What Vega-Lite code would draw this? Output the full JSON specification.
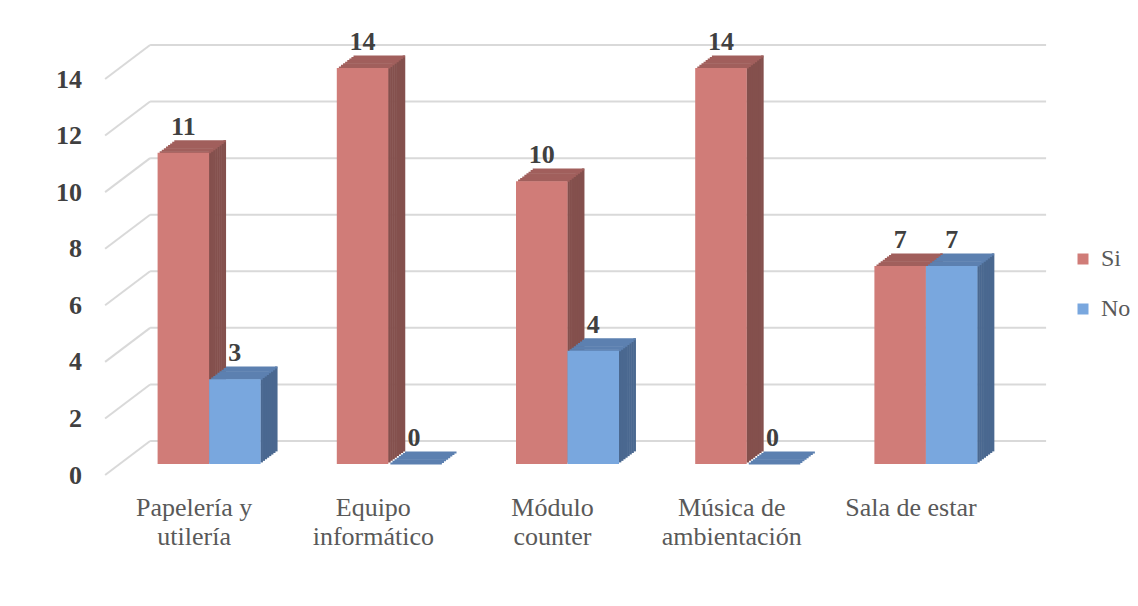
{
  "$schema": "https://vega.github.io/schema/vega-lite/v6.json",
  "width": 896,
  "height": 396,
  "autosize": {"type": "none"},
  "padding": {"left": 119.5, "top": 68, "right": 122.5, "bottom": 142},
  "background": "white",
  "config": {
    "view": {"stroke": null},
    "font": "Liberation Serif",
    "axisY": {
      "title": null,
      "domain": false,
      "ticks": false,
      "tickSize": 0,
      "grid": false,
      "labelFont": "Liberation Serif",
      "labelFontSize": 26,
      "labelFontWeight": "bold",
      "labelColor": "#404040",
      "labelPadding": 38,
      "labelOffset": 11,
      "labelFlush": false
    }
  },
  "datasets": {
    "si": [
      {"categoria": "Papelería y utilería", "valor": 11},
      {"categoria": "Equipo informático", "valor": 14},
      {"categoria": "Módulo counter", "valor": 10},
      {"categoria": "Música de ambientación", "valor": 14},
      {"categoria": "Sala de estar", "valor": 7}
    ],
    "no": [
      {"categoria": "Papelería y utilería", "valor": 3},
      {"categoria": "Equipo informático", "valor": 0},
      {"categoria": "Módulo counter", "valor": 4},
      {"categoria": "Música de ambientación", "valor": 0},
      {"categoria": "Sala de estar", "valor": 7}
    ],
    "marcas": [{"v": 0}, {"v": 2}, {"v": 4}, {"v": 6}, {"v": 8}, {"v": 10}, {"v": 12}, {"v": 14}]
  },
  "encoding": {
    "x": {
      "field": "categoria",
      "type": "nominal",
      "scale": {
        "domain": ["Papelería y utilería", "Equipo informático", "Módulo counter", "Música de ambientación", "Sala de estar"],
        "paddingInner": 0,
        "paddingOuter": 0
      },
      "axis": {
        "title": null,
        "domain": false,
        "ticks": false,
        "tickSize": 0,
        "grid": false,
        "labelAngle": 0,
        "labelFont": "Liberation Serif",
        "labelFontSize": 26,
        "labelColor": "#595959",
        "labelPadding": 51,
        "labelBaseline": "alphabetic",
        "labelLineHeight": 29,
        "labelOffset": -15,
        "labelLimit": 0,
        "labelExpr": "datum.value == 'Sala de estar' ? datum.value : [slice(datum.value, 0, lastindexof(datum.value, ' ')), slice(datum.value, lastindexof(datum.value, ' ') + 1)]"
      }
    },
    "y": {
      "field": "valor",
      "type": "quantitative",
      "scale": {"domain": [0, 14], "nice": false},
      "axis": {"values": [0, 2, 4, 6, 8, 10, 12, 14]}
    }
  },
  "layer": [
    {
      "data": {"name": "marcas"},
      "mark": {"type": "rule", "color": "#D9D9D9", "strokeWidth": 2, "xOffset": -14.4, "x2Offset": 30.6, "yOffset": 11, "y2Offset": -23},
      "encoding": {
        "x": {"datum": "Papelería y utilería", "bandPosition": 0},
        "x2": {"datum": "Papelería y utilería", "bandPosition": 0},
        "y": {"field": "v", "type": "quantitative", "axis": {"values": [0, 2, 4, 6, 8, 10, 12, 14]}},
        "y2": {"field": "v"}
      }
    },
    {
      "data": {"name": "marcas"},
      "mark": {"type": "rule", "color": "#D9D9D9", "strokeWidth": 2, "xOffset": 30.6, "x2Offset": 30.6, "yOffset": -23, "y2Offset": -23},
      "encoding": {
        "x": {"datum": "Papelería y utilería", "bandPosition": 0},
        "x2": {"datum": "Sala de estar", "bandPosition": 1},
        "y": {"field": "v", "type": "quantitative", "axis": {"values": [0, 2, 4, 6, 8, 10, 12, 14]}},
        "y2": {"field": "v"}
      }
    },
    {"data": {"name": "si"}, "mark": {"type": "bar", "color": "#84504D", "width": 2.6, "xOffset": 1.04, "yOffset": -1.58, "y2Offset": -1.58}, "encoding": {"y2": {"datum": 0}}},
    {"data": {"name": "si"}, "mark": {"type": "bar", "color": "#84504D", "width": 2.6, "xOffset": 3.13, "yOffset": -3.15, "y2Offset": -3.15}, "encoding": {"y2": {"datum": 0}}},
    {"data": {"name": "si"}, "mark": {"type": "bar", "color": "#84504D", "width": 2.6, "xOffset": 5.22, "yOffset": -4.73, "y2Offset": -4.73}, "encoding": {"y2": {"datum": 0}}},
    {"data": {"name": "si"}, "mark": {"type": "bar", "color": "#84504D", "width": 2.6, "xOffset": 7.31, "yOffset": -6.3, "y2Offset": -6.3}, "encoding": {"y2": {"datum": 0}}},
    {"data": {"name": "si"}, "mark": {"type": "bar", "color": "#84504D", "width": 2.6, "xOffset": 9.39, "yOffset": -7.88, "y2Offset": -7.88}, "encoding": {"y2": {"datum": 0}}},
    {"data": {"name": "si"}, "mark": {"type": "bar", "color": "#84504D", "width": 2.6, "xOffset": 11.48, "yOffset": -9.45, "y2Offset": -9.45}, "encoding": {"y2": {"datum": 0}}},
    {"data": {"name": "si"}, "mark": {"type": "bar", "color": "#84504D", "width": 2.6, "xOffset": 13.57, "yOffset": -11.03, "y2Offset": -11.03}, "encoding": {"y2": {"datum": 0}}},
    {"data": {"name": "si"}, "mark": {"type": "bar", "color": "#84504D", "width": 2.6, "xOffset": 15.66, "yOffset": -12.6, "y2Offset": -12.6}, "encoding": {"y2": {"datum": 0}}},
    {"data": {"name": "si"}, "mark": {"type": "bar", "color": "#A15F5C", "width": 51.5, "xOffset": -23.66, "yOffset": -1.58, "y2Offset": 0.5}, "encoding": {"y2": {"field": "valor"}}},
    {"data": {"name": "si"}, "mark": {"type": "bar", "color": "#A15F5C", "width": 51.5, "xOffset": -21.58, "yOffset": -3.15, "y2Offset": -1.08}, "encoding": {"y2": {"field": "valor"}}},
    {"data": {"name": "si"}, "mark": {"type": "bar", "color": "#A15F5C", "width": 51.5, "xOffset": -19.49, "yOffset": -4.73, "y2Offset": -2.65}, "encoding": {"y2": {"field": "valor"}}},
    {"data": {"name": "si"}, "mark": {"type": "bar", "color": "#A15F5C", "width": 51.5, "xOffset": -17.4, "yOffset": -6.3, "y2Offset": -4.23}, "encoding": {"y2": {"field": "valor"}}},
    {"data": {"name": "si"}, "mark": {"type": "bar", "color": "#A15F5C", "width": 51.5, "xOffset": -15.31, "yOffset": -7.88, "y2Offset": -5.8}, "encoding": {"y2": {"field": "valor"}}},
    {"data": {"name": "si"}, "mark": {"type": "bar", "color": "#A15F5C", "width": 51.5, "xOffset": -13.23, "yOffset": -9.45, "y2Offset": -7.38}, "encoding": {"y2": {"field": "valor"}}},
    {"data": {"name": "si"}, "mark": {"type": "bar", "color": "#A15F5C", "width": 51.5, "xOffset": -11.14, "yOffset": -11.03, "y2Offset": -8.95}, "encoding": {"y2": {"field": "valor"}}},
    {"data": {"name": "si"}, "mark": {"type": "bar", "color": "#A15F5C", "width": 51.5, "xOffset": -9.05, "yOffset": -12.6, "y2Offset": -10.53}, "encoding": {"y2": {"field": "valor"}}},
    {
      "data": {"name": "si"},
      "mark": {"type": "bar", "width": 51.5, "xOffset": -25.75},
      "encoding": {
        "y2": {"datum": 0},
        "color": {
          "datum": "Si",
          "type": "nominal",
          "scale": {"domain": ["Si", "No"], "range": ["#D07C78", "#79A7DE"]},
          "legend": {
            "title": null,
            "orient": "none",
            "legendX": 951.5,
            "legendY": 179,
            "symbolType": "square",
            "symbolSize": 121,
            "symbolStrokeWidth": 0,
            "labelFont": "Liberation Serif",
            "labelFontSize": 24,
            "labelColor": "#595959",
            "rowPadding": 26,
            "labelOffset": 6,
            "padding": 0
          }
        }
      }
    },
    {"data": {"name": "no"}, "mark": {"type": "bar", "color": "#4A6890", "width": 2.6, "xOffset": 52.54, "yOffset": -1.58, "y2Offset": -1.58}, "encoding": {"y2": {"datum": 0}}},
    {"data": {"name": "no"}, "mark": {"type": "bar", "color": "#4A6890", "width": 2.6, "xOffset": 54.63, "yOffset": -3.15, "y2Offset": -3.15}, "encoding": {"y2": {"datum": 0}}},
    {"data": {"name": "no"}, "mark": {"type": "bar", "color": "#4A6890", "width": 2.6, "xOffset": 56.72, "yOffset": -4.73, "y2Offset": -4.73}, "encoding": {"y2": {"datum": 0}}},
    {"data": {"name": "no"}, "mark": {"type": "bar", "color": "#4A6890", "width": 2.6, "xOffset": 58.81, "yOffset": -6.3, "y2Offset": -6.3}, "encoding": {"y2": {"datum": 0}}},
    {"data": {"name": "no"}, "mark": {"type": "bar", "color": "#4A6890", "width": 2.6, "xOffset": 60.89, "yOffset": -7.88, "y2Offset": -7.88}, "encoding": {"y2": {"datum": 0}}},
    {"data": {"name": "no"}, "mark": {"type": "bar", "color": "#4A6890", "width": 2.6, "xOffset": 62.98, "yOffset": -9.45, "y2Offset": -9.45}, "encoding": {"y2": {"datum": 0}}},
    {"data": {"name": "no"}, "mark": {"type": "bar", "color": "#4A6890", "width": 2.6, "xOffset": 65.07, "yOffset": -11.03, "y2Offset": -11.03}, "encoding": {"y2": {"datum": 0}}},
    {"data": {"name": "no"}, "mark": {"type": "bar", "color": "#4A6890", "width": 2.6, "xOffset": 67.16, "yOffset": -12.6, "y2Offset": -12.6}, "encoding": {"y2": {"datum": 0}}},
    {"data": {"name": "no"}, "mark": {"type": "bar", "color": "#5C80B0", "width": 51.5, "xOffset": 27.84, "yOffset": -1.58, "y2Offset": 0.5}, "encoding": {"y2": {"field": "valor"}}},
    {"data": {"name": "no"}, "mark": {"type": "bar", "color": "#5C80B0", "width": 51.5, "xOffset": 29.93, "yOffset": -3.15, "y2Offset": -1.08}, "encoding": {"y2": {"field": "valor"}}},
    {"data": {"name": "no"}, "mark": {"type": "bar", "color": "#5C80B0", "width": 51.5, "xOffset": 32.01, "yOffset": -4.73, "y2Offset": -2.65}, "encoding": {"y2": {"field": "valor"}}},
    {"data": {"name": "no"}, "mark": {"type": "bar", "color": "#5C80B0", "width": 51.5, "xOffset": 34.1, "yOffset": -6.3, "y2Offset": -4.23}, "encoding": {"y2": {"field": "valor"}}},
    {"data": {"name": "no"}, "mark": {"type": "bar", "color": "#5C80B0", "width": 51.5, "xOffset": 36.19, "yOffset": -7.88, "y2Offset": -5.8}, "encoding": {"y2": {"field": "valor"}}},
    {"data": {"name": "no"}, "mark": {"type": "bar", "color": "#5C80B0", "width": 51.5, "xOffset": 38.28, "yOffset": -9.45, "y2Offset": -7.38}, "encoding": {"y2": {"field": "valor"}}},
    {"data": {"name": "no"}, "mark": {"type": "bar", "color": "#5C80B0", "width": 51.5, "xOffset": 40.36, "yOffset": -11.03, "y2Offset": -8.95}, "encoding": {"y2": {"field": "valor"}}},
    {"data": {"name": "no"}, "mark": {"type": "bar", "color": "#5C80B0", "width": 51.5, "xOffset": 42.45, "yOffset": -12.6, "y2Offset": -10.53}, "encoding": {"y2": {"field": "valor"}}},
    {
      "data": {"name": "no"},
      "mark": {"type": "bar", "width": 51.5, "xOffset": 25.75},
      "encoding": {"y2": {"datum": 0}, "color": {"datum": "No", "type": "nominal"}}
    },
    {
      "data": {"name": "si"},
      "mark": {"type": "text", "xOffset": -25.75, "dy": -26, "font": "Liberation Serif", "fontSize": 26, "fontWeight": "bold", "color": "#404040"},
      "encoding": {"text": {"field": "valor", "type": "quantitative"}}
    },
    {
      "data": {"name": "no"},
      "mark": {"type": "text", "xOffset": 25.75, "dy": -26, "font": "Liberation Serif", "fontSize": 26, "fontWeight": "bold", "color": "#404040"},
      "encoding": {"text": {"field": "valor", "type": "quantitative"}}
    }
  ]
}
